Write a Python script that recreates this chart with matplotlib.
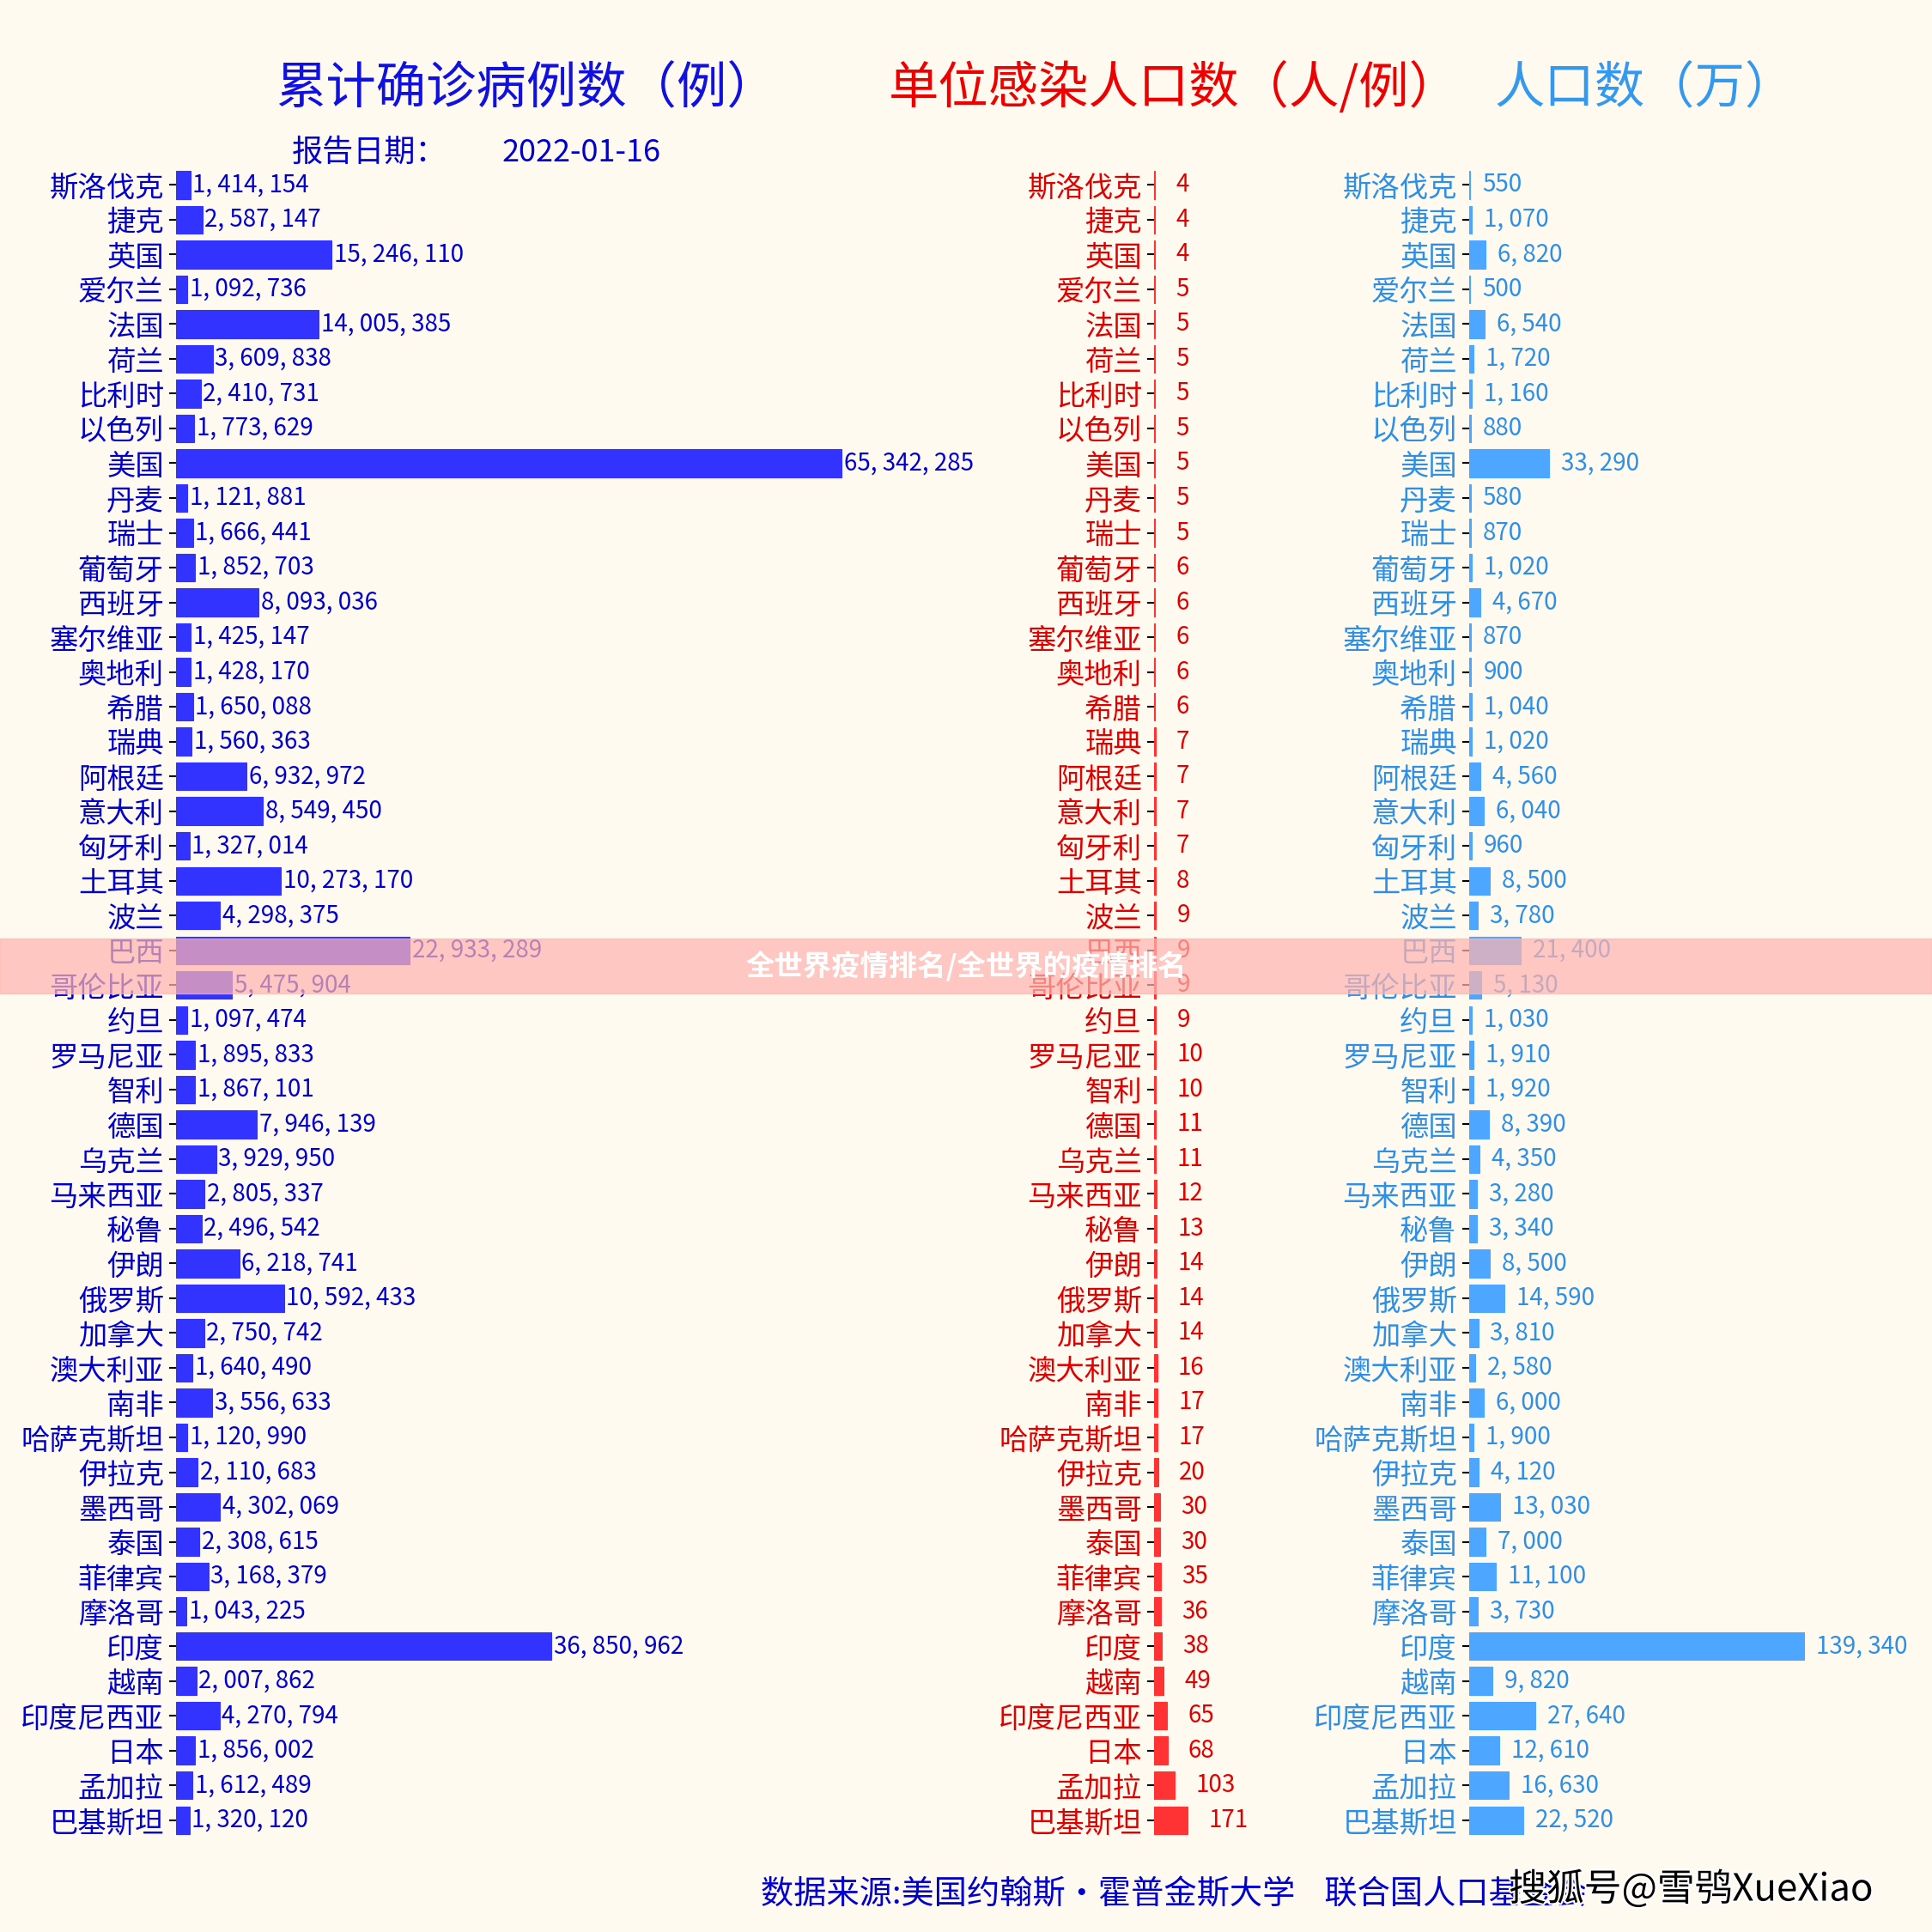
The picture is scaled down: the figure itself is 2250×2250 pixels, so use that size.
import matplotlib
matplotlib.use("Agg")
import matplotlib.pyplot as plt
import matplotlib.patheffects as pe
from matplotlib.patches import Rectangle

plt.rcParams['font.family'] = ['Noto Sans CJK SC', 'DejaVu Sans']

# data
countries = ["斯洛伐克", "捷克", "英国", "爱尔兰", "法国", "荷兰", "比利时", "以色列",
             "美国", "丹麦", "瑞士", "葡萄牙", "西班牙", "塞尔维亚", "奥地利", "希腊",
             "瑞典", "阿根廷", "意大利", "匈牙利", "土耳其", "波兰", "巴西", "哥伦比亚",
             "约旦", "罗马尼亚", "智利", "德国", "乌克兰", "马来西亚", "秘鲁", "伊朗",
             "俄罗斯", "加拿大", "澳大利亚", "南非", "哈萨克斯坦", "伊拉克", "墨西哥", "泰国",
             "菲律宾", "摩洛哥", "印度", "越南", "印度尼西亚", "日本", "孟加拉", "巴基斯坦"]
cases = [1414154, 2587147, 15246110, 1092736, 14005385, 3609838, 2410731, 1773629,
         65342285, 1121881, 1666441, 1852703, 8093036, 1425147, 1428170, 1650088,
         1560363, 6932972, 8549450, 1327014, 10273170, 4298375, 22933289, 5475904,
         1097474, 1895833, 1867101, 7946139, 3929950, 2805337, 2496542, 6218741,
         10592433, 2750742, 1640490, 3556633, 1120990, 2110683, 4302069, 2308615,
         3168379, 1043225, 36850962, 2007862, 4270794, 1856002, 1612489, 1320120]
per_case = [4, 4, 4, 5, 5, 5, 5, 5, 5, 5, 5, 6, 6, 6, 6, 6,
            7, 7, 7, 7, 8, 9, 9, 9, 9, 10, 10, 11, 11, 12, 13, 14,
            14, 14, 16, 17, 17, 20, 30, 30, 35, 36, 38, 49, 65, 68, 103, 171]
population = [550, 1070, 6820, 500, 6540, 1720, 1160, 880, 33290, 580, 870, 1020,
              4670, 870, 900, 1040, 1020, 4560, 6040, 960, 8500, 3780, 21400, 5130,
              1030, 1910, 1920, 8390, 4350, 3280, 3340, 8500, 14590, 3810, 2580, 6000,
              1900, 4120, 13030, 7000, 11100, 3730, 139340, 9820, 27640, 12610, 16630, 22520]

report_date = "2022-01-16"
bg = "#FFFAF0"


def fmt(v):
    return "{:,}".format(v).replace(",", ", ")


fig = plt.figure(figsize=(22.5, 22.5), dpi=100, facecolor=bg)

bottom, height = 0.0489, 0.8644
panels = [
    # left, width, values, bar colour, text colour, x max, label offset
    (0.0911, 0.40, cases, "#3333FF", "#0000CD", 65342285 * 900 / 775, 0.003),
    (0.5973, 0.09, per_case, "#FF3333", "#E00000", 171 * 200 / 39, 0.12),
    (0.7604, 0.22, population, "#4DA6FF", "#2E8FE6", 139340 * 500 / 394, 0.028),
]

y = list(range(len(countries)))
for left, width, vals, bar_c, txt_c, xmax, off in panels:
    ax = fig.add_axes([left, bottom, width, height])
    ax.set_facecolor("none")
    ax.barh(y, vals, height=0.8, color=bar_c, edgecolor=bar_c, linewidth=0.8)
    ax.set_xlim(0, xmax)
    ax.set_ylim(len(countries) - 0.5, -0.5)
    ax.set_yticks(y)
    ax.set_yticklabels(countries, fontsize=24, color=txt_c)
    ax.tick_params(axis="y", length=6, width=1.5, color="black", pad=4)
    ax.xaxis.set_visible(False)
    for s in ax.spines.values():
        s.set_visible(False)
    for yi, v in zip(y, vals):
        ax.text(v + off * xmax, yi, fmt(v), va="center", ha="left",
                fontsize=20, color=txt_c)

# titles
fig.text(0.2725, 0.954, "累计确诊病例数（例）", fontsize=42, color="#1010E0",
         ha="center", va="center")
fig.text(0.6075, 0.954, "单位感染人口数（人/例）", fontsize=42, color="#EE0000",
         ha="center", va="center")
fig.text(0.8515, 0.954, "人口数（万）", fontsize=42, color="#3399EE",
         ha="center", va="center")
fig.text(0.151, 0.921, "报告日期：", fontsize=26, color="#0000CD", va="center")
fig.text(0.26, 0.921, report_date, fontsize=26, color="#0000CD", va="center")

fig.text(0.394, 0.019, "数据来源:美国约翰斯・霍普金斯大学    联合国人口基金会",
         fontsize=27.5, color="#0000CD", va="center")

# overlay band and watermark
fig.add_artist(Rectangle((0, 0.4858), 1, 0.0284, transform=fig.transFigure,
                         color="#FFB4AF", alpha=0.72, zorder=5))
fig.text(0.5, 0.4996, "全世界疫情排名/全世界的疫情排名", fontsize=24,
         fontweight="bold", color="white", ha="center", va="center", zorder=6)
fig.text(0.781, 0.022, "搜狐号@雪鸮XueXiao", fontsize=31.5, color="black",
         va="center", zorder=7,
         path_effects=[pe.withStroke(linewidth=3, foreground="white")])

fig.savefig("out.png", dpi=100, facecolor=bg)
